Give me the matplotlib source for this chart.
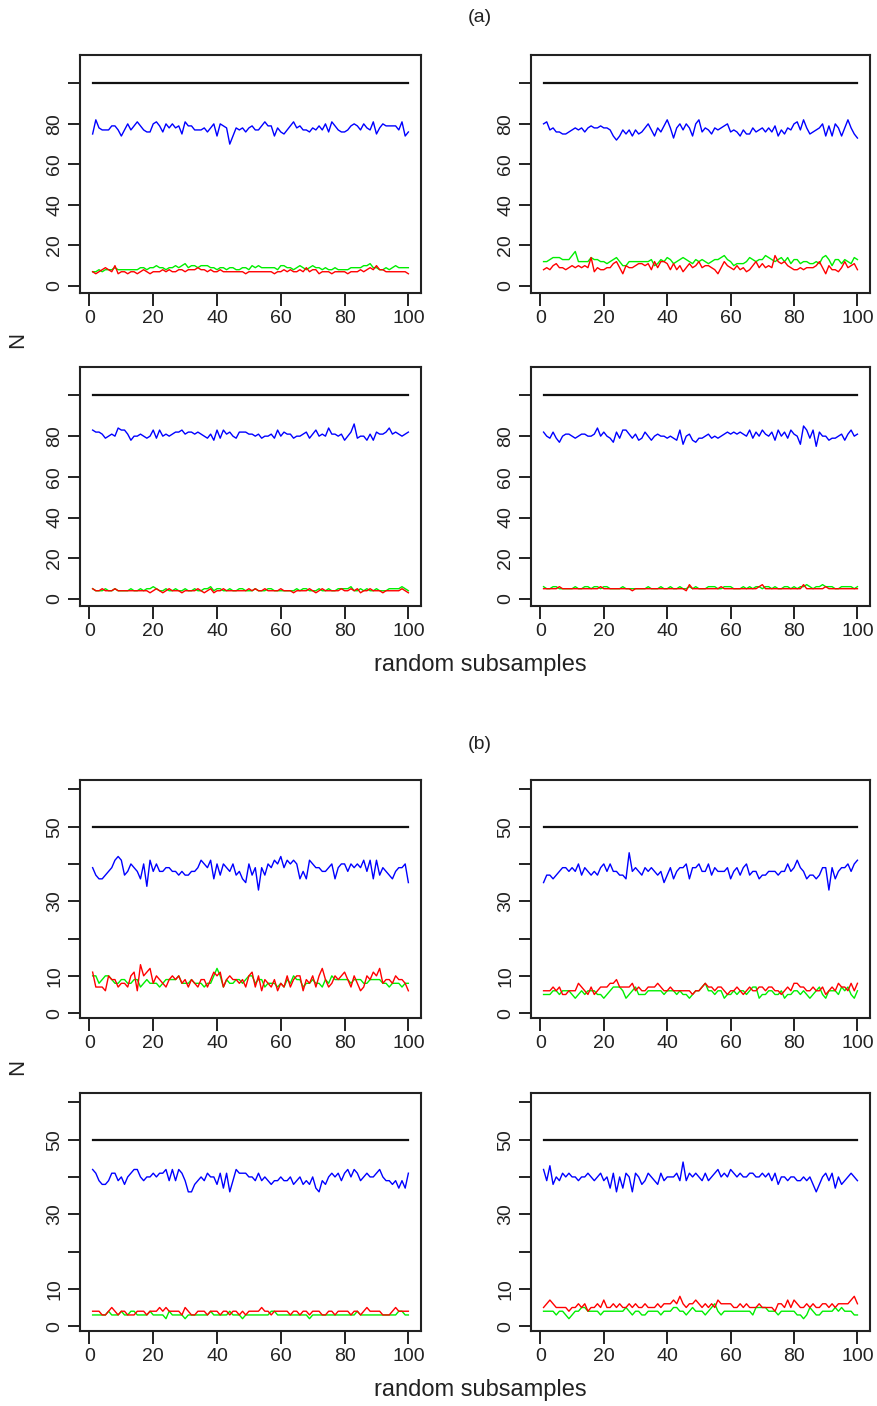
import numpy as np
import matplotlib
matplotlib.use("Agg")
import matplotlib.pyplot as plt

plt.rcParams['font.family'] = ['Liberation Sans', 'DejaVu Sans']

# subsample index
x = np.arange(1, 101)

# reference level per group
a_total = 100
b_total = 50

# ---- group (a) ----
a1_blue = [75, 82, 78, 77, 77, 77, 79, 79, 77, 74,
           77, 80, 77, 79, 81, 79, 77, 76, 76, 80,
           81, 79, 76, 80, 78, 80, 78, 79, 75, 81,
           79, 79, 77, 77, 77, 78, 76, 78, 80, 74,
           80, 79, 78, 70, 74, 78, 77, 78, 76, 78,
           79, 77, 77, 79, 81, 79, 79, 74, 78, 76,
           75, 77, 79, 81, 78, 79, 77, 77, 76, 78,
           77, 79, 77, 80, 76, 81, 79, 77, 76, 76,
           77, 79, 80, 79, 77, 80, 78, 77, 81, 75,
           78, 80, 79, 79, 79, 79, 77, 81, 74, 76]
a1_green = [7, 7, 8, 7, 8, 8, 8, 9, 8, 8,
            8, 8, 8, 8, 8, 9, 9, 8, 9, 9,
            10, 9, 9, 8, 9, 9, 10, 9, 10, 11,
            9, 10, 10, 9, 10, 10, 10, 9, 9, 8,
            9, 9, 8, 9, 9, 8, 8, 9, 9, 8,
            10, 9, 10, 9, 9, 9, 9, 9, 8, 10,
            10, 9, 9, 8, 9, 10, 9, 8, 9, 10,
            9, 9, 8, 9, 8, 8, 9, 8, 8, 8,
            8, 9, 9, 9, 9, 10, 10, 11, 9, 9,
            8, 8, 9, 8, 9, 10, 9, 9, 9, 9]
a1_red = [7, 6, 7, 8, 9, 8, 7, 10, 6, 7,
          7, 6, 7, 7, 6, 7, 8, 7, 6, 7,
          7, 7, 8, 7, 8, 7, 7, 8, 8, 7,
          8, 8, 8, 9, 8, 8, 7, 8, 7, 7,
          8, 7, 7, 7, 7, 7, 7, 7, 6, 7,
          7, 7, 7, 7, 7, 7, 7, 6, 7, 7,
          8, 7, 8, 7, 7, 8, 7, 9, 7, 8,
          8, 6, 7, 7, 7, 6, 7, 7, 7, 7,
          6, 7, 7, 7, 8, 7, 8, 9, 8, 10,
          8, 8, 7, 7, 7, 7, 7, 7, 7, 6]

a2_blue = [80, 81, 77, 78, 76, 76, 75, 75, 76, 77,
           78, 77, 78, 76, 78, 79, 78, 78, 79, 78,
           78, 77, 74, 72, 74, 77, 75, 77, 74, 77,
           75, 76, 78, 80, 77, 74, 78, 76, 79, 82,
           78, 73, 78, 80, 77, 80, 78, 74, 80, 82,
           76, 78, 77, 75, 78, 77, 78, 79, 80, 76,
           77, 76, 74, 77, 75, 75, 78, 76, 77, 78,
           76, 78, 76, 79, 74, 77, 75, 78, 77, 80,
           81, 77, 82, 78, 75, 76, 77, 78, 80, 74,
           79, 74, 80, 78, 74, 78, 82, 78, 75, 73]
a2_green = [12, 12, 13, 14, 14, 14, 13, 13, 13, 15,
            17, 12, 12, 12, 12, 14, 13, 13, 12, 12,
            11, 12, 13, 14, 12, 10, 10, 12, 12, 12,
            12, 12, 12, 12, 13, 10, 11, 13, 12, 14,
            13, 11, 12, 13, 14, 13, 12, 11, 13, 12,
            13, 12, 11, 12, 13, 13, 14, 15, 13, 12,
            10, 11, 11, 11, 12, 14, 13, 12, 13, 13,
            15, 14, 13, 12, 13, 14, 12, 14, 11, 13,
            13, 11, 12, 12, 11, 11, 12, 11, 14, 15,
            13, 10, 13, 13, 11, 13, 12, 11, 14, 13]
a2_red = [8, 9, 8, 10, 11, 9, 9, 8, 9, 10,
          9, 10, 9, 10, 9, 14, 7, 9, 8, 8,
          9, 9, 11, 12, 9, 6, 10, 9, 9, 10,
          11, 11, 10, 11, 8, 12, 9, 12, 12, 11,
          8, 11, 8, 10, 7, 9, 11, 9, 10, 12,
          9, 10, 10, 9, 8, 6, 9, 12, 10, 9,
          8, 10, 8, 9, 7, 8, 10, 12, 9, 11,
          9, 10, 9, 15, 12, 11, 12, 10, 9, 8,
          8, 9, 8, 9, 9, 9, 10, 12, 9, 6,
          10, 8, 8, 7, 9, 12, 9, 10, 11, 8]

a3_blue = [83, 82, 82, 81, 79, 80, 81, 80, 84, 83,
           83, 81, 78, 80, 80, 81, 80, 79, 80, 83,
           79, 83, 80, 81, 80, 81, 82, 82, 83, 81,
           82, 82, 81, 82, 81, 80, 79, 81, 78, 83,
           79, 83, 81, 82, 80, 79, 82, 82, 82, 81,
           81, 80, 81, 79, 80, 80, 81, 79, 83, 80,
           82, 81, 81, 79, 80, 80, 81, 82, 79, 81,
           83, 80, 81, 80, 84, 81, 81, 80, 81, 78,
           80, 82, 86, 79, 80, 80, 78, 81, 78, 82,
           81, 81, 82, 84, 81, 82, 81, 80, 81, 82]
a3_green = [5, 4, 4, 4, 5, 4, 4, 5, 4, 4,
            4, 4, 5, 4, 4, 5, 4, 5, 5, 6,
            5, 4, 4, 5, 4, 4, 5, 4, 4, 5,
            4, 4, 5, 4, 4, 5, 5, 6, 4, 5,
            5, 4, 4, 5, 4, 4, 5, 5, 4, 4,
            4, 5, 4, 4, 4, 5, 5, 4, 4, 4,
            4, 4, 4, 4, 5, 4, 5, 5, 4, 4,
            4, 5, 4, 4, 5, 4, 4, 5, 5, 5,
            5, 6, 4, 4, 5, 4, 5, 4, 4, 5,
            4, 4, 4, 5, 5, 5, 5, 6, 5, 4]
a3_red = [5, 4, 4, 5, 4, 4, 4, 5, 4, 4,
          4, 4, 4, 4, 4, 4, 4, 4, 3, 4,
          5, 4, 3, 4, 5, 4, 4, 4, 3, 4,
          4, 4, 4, 5, 4, 3, 4, 5, 3, 4,
          4, 5, 4, 4, 4, 4, 4, 4, 4, 5,
          4, 5, 4, 4, 5, 4, 4, 4, 4, 5,
          4, 4, 4, 3, 4, 4, 4, 4, 5, 4,
          3, 4, 5, 4, 4, 4, 4, 4, 5, 4,
          4, 5, 4, 5, 3, 4, 4, 5, 4, 4,
          4, 3, 4, 4, 4, 4, 4, 5, 4, 3]

a4_blue = [82, 80, 79, 82, 79, 77, 80, 81, 81, 80,
           79, 80, 81, 81, 80, 80, 81, 84, 80, 82,
           80, 79, 77, 82, 79, 83, 83, 81, 79, 81,
           78, 79, 82, 80, 78, 80, 81, 80, 80, 79,
           80, 79, 78, 83, 76, 80, 81, 78, 77, 79,
           79, 80, 81, 79, 80, 79, 80, 81, 82, 81,
           82, 81, 82, 81, 80, 83, 79, 82, 80, 83,
           81, 80, 82, 78, 83, 80, 82, 79, 83, 81,
           80, 76, 85, 83, 79, 83, 75, 82, 80, 80,
           78, 79, 79, 80, 81, 78, 81, 83, 80, 81]
a4_green = [6, 5, 5, 6, 6, 5, 5, 5, 5, 5,
            6, 5, 5, 6, 6, 5, 6, 6, 5, 6,
            6, 5, 5, 5, 5, 6, 5, 5, 5, 5,
            5, 5, 5, 6, 5, 5, 5, 6, 5, 5,
            6, 5, 5, 6, 5, 5, 6, 5, 6, 5,
            5, 5, 6, 6, 6, 5, 5, 6, 6, 6,
            5, 5, 5, 6, 5, 6, 5, 6, 6, 5,
            6, 6, 5, 6, 5, 5, 6, 6, 5, 6,
            5, 6, 6, 7, 6, 5, 6, 6, 7, 6,
            6, 6, 5, 5, 6, 6, 6, 6, 5, 6]
a4_red = [5, 5, 5, 5, 5, 6, 5, 5, 5, 5,
          5, 5, 5, 5, 5, 5, 5, 5, 6, 5,
          5, 5, 5, 5, 5, 5, 5, 5, 4, 5,
          5, 5, 5, 5, 5, 5, 5, 5, 5, 5,
          5, 5, 5, 5, 5, 4, 7, 5, 5, 5,
          5, 5, 5, 5, 5, 5, 6, 5, 5, 5,
          5, 5, 5, 5, 5, 5, 5, 5, 6, 7,
          5, 5, 5, 5, 5, 5, 5, 5, 5, 5,
          5, 5, 7, 5, 5, 5, 5, 5, 5, 6,
          5, 5, 5, 5, 5, 5, 5, 5, 5, 5]

# ---- group (b) ----
b1_blue = [39, 37, 36, 36, 37, 38, 39, 41, 42, 41,
           37, 38, 40, 39, 38, 36, 40, 34, 41, 38,
           40, 38, 38, 39, 39, 38, 38, 37, 38, 37,
           37, 38, 38, 39, 41, 40, 39, 41, 36, 40,
           37, 40, 39, 38, 40, 37, 38, 36, 35, 40,
           37, 39, 33, 39, 37, 40, 39, 41, 40, 42,
           39, 41, 40, 41, 40, 36, 38, 36, 41, 40,
           39, 39, 38, 38, 39, 40, 36, 39, 40, 40,
           38, 40, 39, 40, 39, 41, 38, 41, 36, 41,
           37, 39, 38, 37, 36, 38, 39, 39, 40, 35]
b1_green = [10, 10, 8, 9, 10, 10, 9, 8, 8, 9,
            9, 8, 8, 9, 9, 7, 8, 9, 8, 8,
            8, 7, 8, 9, 9, 9, 9, 10, 8, 8,
            8, 9, 8, 8, 8, 7, 8, 8, 10, 12,
            10, 7, 9, 8, 8, 9, 9, 8, 9, 10,
            10, 8, 9, 9, 7, 8, 8, 8, 7, 8,
            7, 9, 8, 10, 9, 9, 7, 8, 8, 9,
            8, 8, 7, 9, 8, 10, 9, 9, 9, 9,
            9, 8, 9, 9, 9, 8, 8, 9, 9, 9,
            9, 8, 8, 7, 8, 8, 8, 7, 8, 8]
b1_red = [11, 7, 7, 7, 6, 10, 9, 9, 7, 8,
          8, 7, 10, 11, 6, 13, 10, 11, 12, 8,
          10, 9, 8, 7, 9, 10, 9, 10, 8, 9,
          7, 9, 8, 7, 9, 9, 7, 9, 11, 10,
          11, 7, 9, 10, 9, 9, 8, 9, 7, 10,
          11, 7, 10, 6, 9, 8, 7, 9, 6, 8,
          7, 10, 7, 9, 10, 10, 6, 9, 8, 10,
          7, 10, 12, 9, 7, 8, 10, 9, 10, 11,
          9, 7, 10, 8, 6, 7, 10, 9, 11, 10,
          12, 8, 9, 9, 8, 10, 9, 9, 8, 6]

b2_blue = [35, 37, 37, 36, 37, 38, 39, 39, 38, 39,
           38, 40, 37, 39, 38, 37, 38, 37, 39, 40,
           38, 40, 38, 38, 37, 37, 36, 43, 38, 39,
           38, 37, 39, 38, 39, 38, 37, 38, 35, 37,
           39, 36, 38, 39, 39, 40, 36, 39, 39, 40,
           38, 38, 40, 37, 39, 38, 38, 38, 39, 36,
           38, 39, 37, 39, 40, 37, 38, 38, 36, 37,
           37, 38, 38, 38, 37, 38, 38, 40, 38, 39,
           41, 39, 38, 36, 37, 37, 36, 37, 39, 39,
           33, 39, 36, 38, 39, 39, 40, 38, 40, 41]
b2_green = [5, 5, 5, 6, 6, 5, 6, 6, 6, 5,
            4, 5, 6, 5, 6, 6, 6, 5, 5, 4,
            5, 6, 7, 7, 7, 6, 4, 5, 6, 7,
            5, 5, 5, 6, 6, 6, 6, 6, 5, 6,
            6, 6, 5, 6, 5, 5, 4, 5, 6, 6,
            7, 8, 6, 6, 5, 6, 6, 4, 5, 5,
            6, 5, 6, 6, 5, 6, 7, 7, 4, 5,
            5, 6, 6, 5, 5, 6, 4, 5, 5, 6,
            6, 5, 6, 5, 4, 5, 6, 7, 5, 4,
            6, 6, 6, 5, 7, 6, 7, 5, 4, 6]
b2_red = [6, 6, 6, 7, 6, 7, 5, 5, 6, 6,
          6, 8, 7, 6, 5, 7, 5, 6, 7, 7,
          7, 8, 8, 9, 7, 7, 7, 7, 8, 6,
          7, 6, 6, 7, 7, 7, 8, 7, 6, 6,
          7, 6, 6, 6, 6, 6, 6, 5, 6, 6,
          7, 8, 7, 7, 6, 7, 7, 6, 5, 6,
          6, 7, 6, 5, 6, 7, 6, 6, 7, 7,
          6, 7, 7, 6, 6, 5, 6, 7, 6, 8,
          8, 7, 7, 6, 6, 7, 6, 6, 7, 5,
          6, 7, 6, 8, 7, 7, 6, 8, 6, 8]

b3_blue = [42, 41, 39, 38, 38, 39, 41, 41, 39, 40,
           38, 40, 41, 42, 42, 40, 39, 40, 40, 41,
           40, 41, 41, 42, 39, 42, 39, 42, 41, 39,
           36, 36, 38, 39, 40, 39, 41, 40, 40, 38,
           41, 37, 41, 36, 39, 42, 41, 41, 41, 40,
           40, 39, 41, 39, 40, 39, 38, 39, 39, 40,
           39, 39, 40, 38, 39, 40, 38, 39, 38, 40,
           37, 36, 39, 38, 40, 41, 40, 41, 39, 41,
           42, 40, 42, 41, 39, 40, 41, 40, 40, 41,
           42, 40, 39, 39, 38, 39, 37, 39, 37, 41]
b3_green = [3, 3, 3, 3, 3, 4, 3, 3, 3, 4,
            3, 3, 4, 4, 3, 3, 3, 3, 4, 3,
            3, 3, 3, 2, 4, 3, 3, 3, 3, 2,
            3, 3, 3, 3, 3, 3, 3, 4, 3, 3,
            3, 3, 3, 4, 3, 3, 3, 2, 3, 3,
            3, 3, 3, 3, 3, 3, 4, 4, 3, 3,
            3, 3, 3, 3, 3, 3, 3, 3, 2, 3,
            3, 3, 3, 3, 3, 3, 3, 3, 3, 3,
            3, 3, 3, 4, 3, 3, 3, 3, 3, 3,
            3, 3, 3, 3, 3, 3, 4, 4, 3, 3]
b3_red = [4, 4, 4, 3, 3, 4, 5, 4, 3, 4,
          4, 3, 3, 3, 4, 4, 4, 3, 4, 4,
          4, 5, 4, 5, 4, 4, 4, 4, 3, 5,
          4, 3, 3, 4, 4, 4, 3, 4, 4, 4,
          3, 4, 4, 3, 4, 4, 3, 4, 3, 4,
          4, 4, 4, 5, 4, 4, 3, 4, 4, 4,
          4, 4, 3, 4, 4, 3, 4, 4, 3, 4,
          4, 4, 3, 3, 4, 4, 3, 4, 4, 4,
          4, 3, 4, 4, 3, 4, 5, 4, 4, 4,
          4, 3, 3, 3, 4, 5, 4, 4, 4, 4]

b4_blue = [42, 39, 43, 38, 40, 39, 41, 40, 41, 40,
           40, 39, 40, 40, 41, 40, 39, 40, 41, 39,
           40, 37, 41, 36, 40, 37, 41, 40, 36, 41,
           40, 38, 39, 41, 40, 39, 38, 41, 39, 40,
           40, 40, 41, 39, 44, 39, 41, 40, 41, 40,
           39, 41, 39, 40, 41, 42, 40, 41, 40, 42,
           41, 40, 41, 40, 40, 41, 41, 40, 40, 41,
           40, 41, 39, 41, 38, 40, 40, 39, 40, 40,
           39, 39, 40, 39, 40, 38, 36, 38, 40, 41,
           39, 41, 37, 40, 38, 39, 40, 41, 40, 39]
b4_green = [4, 4, 4, 4, 3, 4, 4, 3, 2, 3,
            4, 4, 5, 5, 4, 4, 4, 4, 3, 4,
            4, 4, 4, 4, 4, 4, 5, 4, 3, 4,
            4, 3, 3, 4, 4, 4, 4, 3, 4, 4,
            4, 5, 5, 4, 4, 3, 4, 5, 4, 4,
            4, 3, 4, 5, 6, 4, 3, 4, 4, 4,
            4, 4, 4, 4, 4, 4, 3, 5, 5, 5,
            5, 4, 4, 4, 3, 4, 4, 4, 4, 4,
            3, 3, 2, 3, 5, 4, 3, 3, 4, 4,
            4, 4, 5, 4, 5, 4, 4, 4, 3, 3]
b4_red = [5, 6, 7, 6, 5, 5, 5, 5, 4, 5,
          5, 6, 5, 6, 4, 5, 5, 6, 5, 7,
          5, 5, 6, 5, 6, 5, 5, 6, 5, 6,
          5, 5, 6, 5, 5, 5, 6, 5, 6, 6,
          6, 7, 6, 8, 6, 5, 6, 6, 7, 6,
          5, 6, 5, 6, 5, 7, 6, 6, 6, 6,
          5, 5, 6, 5, 6, 5, 5, 5, 6, 5,
          5, 5, 5, 4, 6, 6, 5, 7, 5, 7,
          6, 5, 5, 6, 5, 6, 5, 5, 6, 6,
          5, 6, 5, 6, 6, 6, 6, 7, 8, 6]

# y ticks (R drops labels that would overlap)
a_yticks = [0, 20, 40, 60, 80, 100]
a_ylabels = ['0', '20', '40', '60', '80', '']
b_yticks = [0, 10, 20, 30, 40, 50, 60]
b_ylabels = ['0', '10', '', '30', '', '50', '']
xticks = [0, 20, 40, 60, 80, 100]

W, H = 878, 1406
fig = plt.figure(figsize=(W / 100, H / 100), dpi=100)


def box(l, t, r, b):
    # pixel box -> figure fraction rect
    return [l / W, 1 - b / H, (r - l) / W, (b - t) / H]


cols = [(80, 421), (531, 870)]
rows = [(55, 293), (367, 606), (780, 1018), (1093, 1331)]

panels = [
    (a1_blue, a1_green, a1_red, a_total, 0, 0),
    (a2_blue, a2_green, a2_red, a_total, 0, 1),
    (a3_blue, a3_green, a3_red, a_total, 1, 0),
    (a4_blue, a4_green, a4_red, a_total, 1, 1),
    (b1_blue, b1_green, b1_red, b_total, 2, 0),
    (b2_blue, b2_green, b2_red, b_total, 2, 1),
    (b3_blue, b3_green, b3_red, b_total, 3, 0),
    (b4_blue, b4_green, b4_red, b_total, 3, 1),
]

for blue, green, red, total, r, c in panels:
    ax = fig.add_axes(box(cols[c][0], rows[r][0], cols[c][1], rows[r][1]))
    ax.plot(x, np.full(len(x), total), color='#111111', lw=1.6)
    ax.plot(x, blue, color='#0000ff', lw=1.0)
    ax.plot(x, green, color='#00ee00', lw=1.0)
    ax.plot(x, red, color='#ff0000', lw=1.0)
    ax.set_xlim(-2.96, 103.96)
    if total == a_total:
        ax.set_ylim(-3.5, 114)
        ax.set_yticks(a_yticks)
        ax.set_yticklabels(a_ylabels)
    else:
        ax.set_ylim(-1.3, 62.5)
        ax.set_yticks(b_yticks)
        ax.set_yticklabels(b_ylabels)
    ax.set_xticks(xticks)
    ax.set_xticklabels([str(v) for v in xticks])
    for s in ax.spines.values():
        s.set_linewidth(1.5)
        s.set_color('#222222')
    ax.tick_params(length=9, width=1.4, color='#222222', labelsize=14,
                   labelcolor='#222222', pad=3)
    ax.tick_params(axis='y', labelrotation=90)
    for lab in ax.get_yticklabels():
        lab.set_va('center')

# group titles and shared axis labels
for ytxt, ylab, yN in [(18, 665, 340), (745, 1390, 1067)]:
    pass
fig.text(480 / W, 1 - 18 / H, '(a)', ha='center', va='center', fontsize=14, color='#222222')
fig.text(480 / W, 1 - 745 / H, '(b)', ha='center', va='center', fontsize=14, color='#222222')
fig.text(480 / W, 1 - 665 / H, 'random subsamples', ha='center', va='center', fontsize=17, color='#222222')
fig.text(480 / W, 1 - 1390 / H, 'random subsamples', ha='center', va='center', fontsize=17, color='#222222')
fig.text(18 / W, 1 - 340 / H, 'N', ha='center', va='center', rotation=90, fontsize=16, color='#222222')
fig.text(18 / W, 1 - 1067 / H, 'N', ha='center', va='center', rotation=90, fontsize=16, color='#222222')

fig.savefig('out.png', dpi=100)
